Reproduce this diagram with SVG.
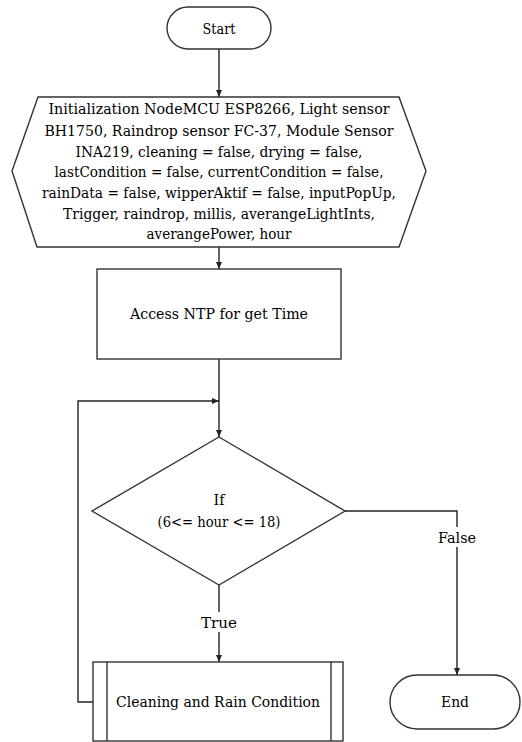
<svg xmlns="http://www.w3.org/2000/svg" width="522" height="742" viewBox="0 0 522 742">
<style>
.shape{fill:#fff;stroke:#333;stroke-width:1.4}
.line{fill:none;stroke:#222;stroke-width:1.4}
.t{font-family:'DejaVu Serif','Liberation Serif',serif;font-size:15px;fill:#000;text-anchor:middle}
</style>
<defs>
<marker id="arr" markerWidth="8" markerHeight="8" refX="7" refY="4" orient="auto" markerUnits="userSpaceOnUse">
<path d="M0,1 L7,4 L0,7 Z" fill="#222"/>
</marker>
</defs>
<rect width="522" height="742" fill="#fff"/>
<g id="connectors">
<line class="line" x1="219" y1="49" x2="219" y2="97" marker-end="url(#arr)"/>
<line class="line" x1="219" y1="247" x2="219" y2="269" marker-end="url(#arr)"/>
<line class="line" x1="219" y1="359" x2="219" y2="437" marker-end="url(#arr)"/>
<line class="line" x1="219" y1="585" x2="219" y2="612"/>
<line class="line" x1="219" y1="632" x2="219" y2="662" marker-end="url(#arr)"/>
<polyline class="line" points="345,511 457,511 457,527"/>
<line class="line" x1="457" y1="547" x2="457" y2="675" marker-end="url(#arr)"/>
<polyline class="line" points="93,702 78,702 78,401 219,401" marker-end="url(#arr)"/>
<text class="t" x="219" y="628" textLength="36" lengthAdjust="spacingAndGlyphs">True</text>
<text class="t" x="457" y="543" textLength="38" lengthAdjust="spacingAndGlyphs">False</text>
</g>
<g id="start">
<rect class="shape" x="167" y="7" width="104" height="42" rx="21" ry="21"/>
<text class="t" x="219" y="34" textLength="33" lengthAdjust="spacingAndGlyphs">Start</text>
</g>
<g id="init">
<polygon class="shape" points="38,97 399,97 426,171 399,247 37,247 12,171"/>
<text class="t" x="219" y="114" textLength="341" lengthAdjust="spacingAndGlyphs">Initialization NodeMCU ESP8266,  Light sensor</text>
<text class="t" x="219" y="136" textLength="349" lengthAdjust="spacingAndGlyphs">BH1750, Raindrop sensor FC-37,  Module Sensor</text>
<text class="t" x="219" y="157" textLength="287" lengthAdjust="spacingAndGlyphs">INA219, cleaning = false, drying = false,</text>
<text class="t" x="219" y="177" textLength="329" lengthAdjust="spacingAndGlyphs">lastCondition = false, currentCondition = false,</text>
<text class="t" x="219" y="198" textLength="354" lengthAdjust="spacingAndGlyphs">rainData = false, wipperAktif = false, inputPopUp,</text>
<text class="t" x="219" y="219" textLength="312" lengthAdjust="spacingAndGlyphs">Trigger, raindrop, millis, averangeLightInts,</text>
<text class="t" x="219" y="239" textLength="145" lengthAdjust="spacingAndGlyphs">averangePower, hour</text>
</g>
<g id="ntp">
<rect class="shape" x="97" y="269" width="244" height="90"/>
<text class="t" x="219" y="319" textLength="178" lengthAdjust="spacingAndGlyphs">Access NTP for get Time</text>
</g>
<g id="decision">
<polygon class="shape" points="219,437 345,511 219,585 92,511"/>
<text class="t" x="219" y="505" textLength="11" lengthAdjust="spacingAndGlyphs">If</text>
<text class="t" x="219" y="527" textLength="123" lengthAdjust="spacingAndGlyphs">(6&lt;= hour &lt;= 18)</text>
</g>
<g id="cleaning">
<rect class="shape" x="93" y="662" width="250" height="79"/>
<line class="shape" x1="107" y1="662" x2="107" y2="741"/>
<line class="shape" x1="331" y1="662" x2="331" y2="741"/>
<text class="t" x="218" y="707" textLength="204" lengthAdjust="spacingAndGlyphs">Cleaning and Rain Condition</text>
</g>
<g id="end">
<rect class="shape" x="390" y="675" width="130" height="54" rx="27" ry="27"/>
<text class="t" x="455" y="707" textLength="28" lengthAdjust="spacingAndGlyphs">End</text>
</g>
</svg>
